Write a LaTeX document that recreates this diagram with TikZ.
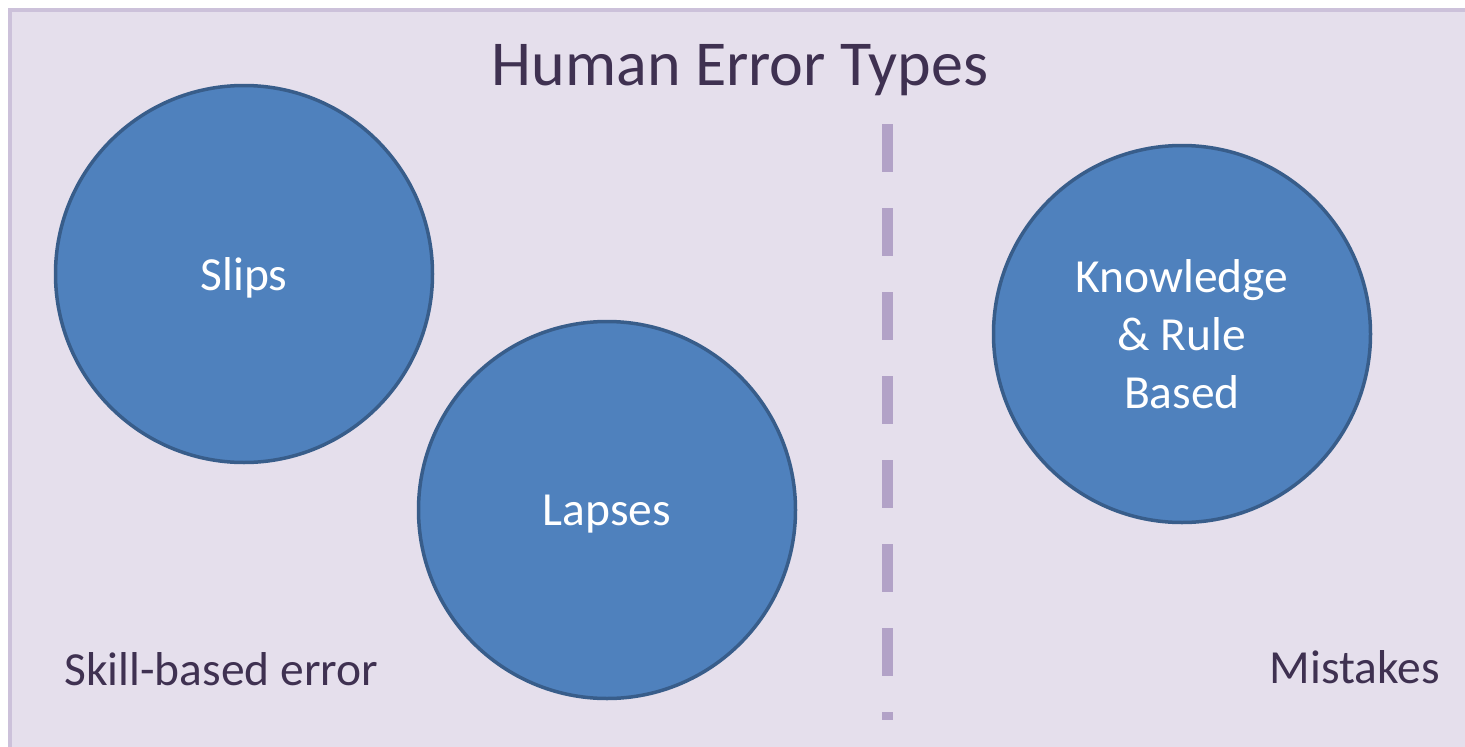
\documentclass[tikz,border=0pt]{standalone}
\usepackage{fontspec}
\setmainfont{Carlito}
\definecolor{bgfill}{HTML}{E5DFEC}
\definecolor{bgline}{HTML}{CCC1DA}
\definecolor{circfill}{HTML}{4F81BD}
\definecolor{circline}{HTML}{385D8A}
\definecolor{txtdark}{HTML}{3F3151}
\definecolor{dashcol}{HTML}{B2A2C7}
\begin{document}
\begin{tikzpicture}[x=1pt,y=-1pt,
  errcircle/.style={circle,draw=circline,fill=circfill,line width=3.5pt,minimum size=377pt,inner sep=0pt},
  circtext/.style={text=white,font=\fontsize{47.5}{58}\selectfont,align=center,yshift=-4pt},
  label text/.style={text=txtdark,font=\fontsize{47.5}{58}\selectfont,inner sep=0pt},
  divider/.style={draw=dashcol,line width=11pt,dash pattern=on 48pt off 36pt}]
\useasboundingbox (0,0) rectangle (1465,747);
\fill[white] (0,0) rectangle (1465,747);
\draw[bgline,fill=bgfill,line width=4pt] (10,10) rectangle (1480,770);
\node[text=txtdark,font=\fontsize{64}{76}\selectfont,inner sep=0pt,anchor=base] (title) at (740,85) {Human Error Types};
\node[errcircle,label={[circtext]center:Slips}] (slips) at (244,274) {};
\node[errcircle,label={[circtext]center:Lapses}] (lapses) at (607,510) {};
\node[errcircle,label={[circtext,yshift=4pt]center:Knowledge\\\& Rule\\Based}] (krb) at (1182,334) {};
\coordinate (dtop) at (887,124);
\coordinate (dbot) at (887,720);
\draw[divider] (dtop) -- (dbot);
\node[label text,anchor=base west] (skill) at (64,685) {Skill-based error};
\node[label text,anchor=base east] (mist) at (1440,683) {Mistakes};
\end{tikzpicture}
\end{document}
